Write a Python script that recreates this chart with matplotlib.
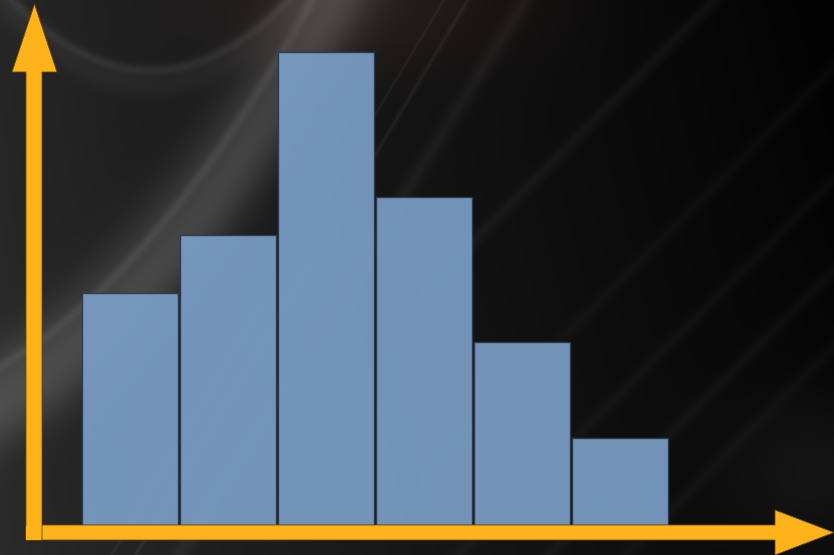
import numpy as np
import matplotlib
matplotlib.use("Agg")
import matplotlib.pyplot as plt
from matplotlib.patches import Polygon

# bar heights (arbitrary units, no labels in the original)
categories = ["A", "B", "C", "D", "E", "F"]
values = [24, 30, 49, 34, 19, 9]

W, H = 834, 555
fig = plt.figure(figsize=(W / 100, H / 100), dpi=100)

# background: dark gradient with soft light swooshes
bg = fig.add_axes([0, 0, 1, 1])
yy, xx = np.mgrid[0:H, 0:W].astype(float)
img = 0.15 - 0.14 * np.clip(xx / W, 0, 1) ** 0.8 + 0.02 * (yy / H)
img = np.clip(img, 0.015, 1.0)


def band(curve, slope, width, strength):
    d = (yy - curve) / np.sqrt(1 + slope ** 2)
    return strength * np.exp(-(d / width) ** 2)


sw = np.zeros_like(img)
# main broad swoosh from lower-left to top
c1 = 380.5 - 0.5675 * xx - 0.001943 * xx ** 2
s1 = -0.5675 - 2 * 0.001943 * xx
sw += band(c1 + 10, s1, 40, 0.13)
sw += band(c1 - 15, s1, 5, 0.05)
sw += band(c1 + 45, s1, 25, 0.04)
# thin streaks near the middle
sw += band(780 - 1.67 * xx, -1.67, 2.0, 0.05)
sw += band(740 - 1.67 * xx, -1.67, 1.5, 0.04)
sw += band(840 - 1.6 * xx, -1.6, 8, 0.04)
# arc at the top left
arc = 70 - 0.0037 * (xx - 150) ** 2
sw += band(arc, -0.0074 * (xx - 150), 5, 0.06)
sw += band(arc + 14, -0.0074 * (xx - 150), 12, 0.035)
# faint diagonal streaks on the right
for c, s in [(713, 0.035), (1013, 0.025), (1103, 0.03), (1180, 0.02), (900, 0.02)]:
    sw += band(c - xx, -1.0, 6, s) * (xx > 420)
sw += 0.05 * np.exp(-(((xx - 820) / 90) ** 2 + ((yy - 470) / 80) ** 2))
img = img + sw
rgb = np.dstack([img, img, img])
# warm tint near the top centre
warm = 0.07 * np.exp(-(((xx - 380) / 160) ** 2 + ((yy - 0) / 70) ** 2))
rgb[..., 0] += warm
rgb[..., 1] += warm * 0.55
rgb[..., 2] += warm * 0.5
rgb = np.clip(rgb, 0, 1)
bg.imshow(rgb, extent=(0, W, H, 0), aspect="auto", interpolation="bilinear")
bg.set_xlim(0, W)
bg.set_ylim(H, 0)
bg.axis("off")

# bars
ax = fig.add_axes([0, 0, 1, 1])
ax.patch.set_alpha(0)
x = np.arange(len(categories))
ax.bar(x, values, width=0.98, color="#7a9ec5", alpha=0.93,
       edgecolor="#2b3a4a", linewidth=1.0, zorder=2)
ax.set_xlim(-1.327, 7.184)
ax.set_ylim(-3.125, 54.4)
ax.axis("off")

# orange axis arrows (decoration, pixel coordinates)
ov = fig.add_axes([0, 0, 1, 1])
ov.patch.set_alpha(0)
ov.set_xlim(0, W)
ov.set_ylim(H, 0)
ov.axis("off")
orange = "#ffb31a"
vert = [(26, 540), (26, 72), (12, 72), (34.5, 4), (57, 72), (42, 72), (42, 540)]
horiz = [(26, 525), (775, 525), (775, 510), (834, 532.5), (775, 555),
         (775, 540), (26, 540)]
ov.add_patch(Polygon(horiz, closed=True, facecolor=orange,
                     edgecolor="#6b4a10", linewidth=0.6, zorder=3))
ov.add_patch(Polygon(vert, closed=True, facecolor=orange,
                     edgecolor="#6b4a10", linewidth=0.6, zorder=3))
ov.add_patch(Polygon([(26.5, 525.5), (41.5, 525.5), (41.5, 539.5), (26.5, 539.5)],
                     closed=True, facecolor=orange, edgecolor="none", zorder=4))

fig.savefig("out.png", dpi=100)
